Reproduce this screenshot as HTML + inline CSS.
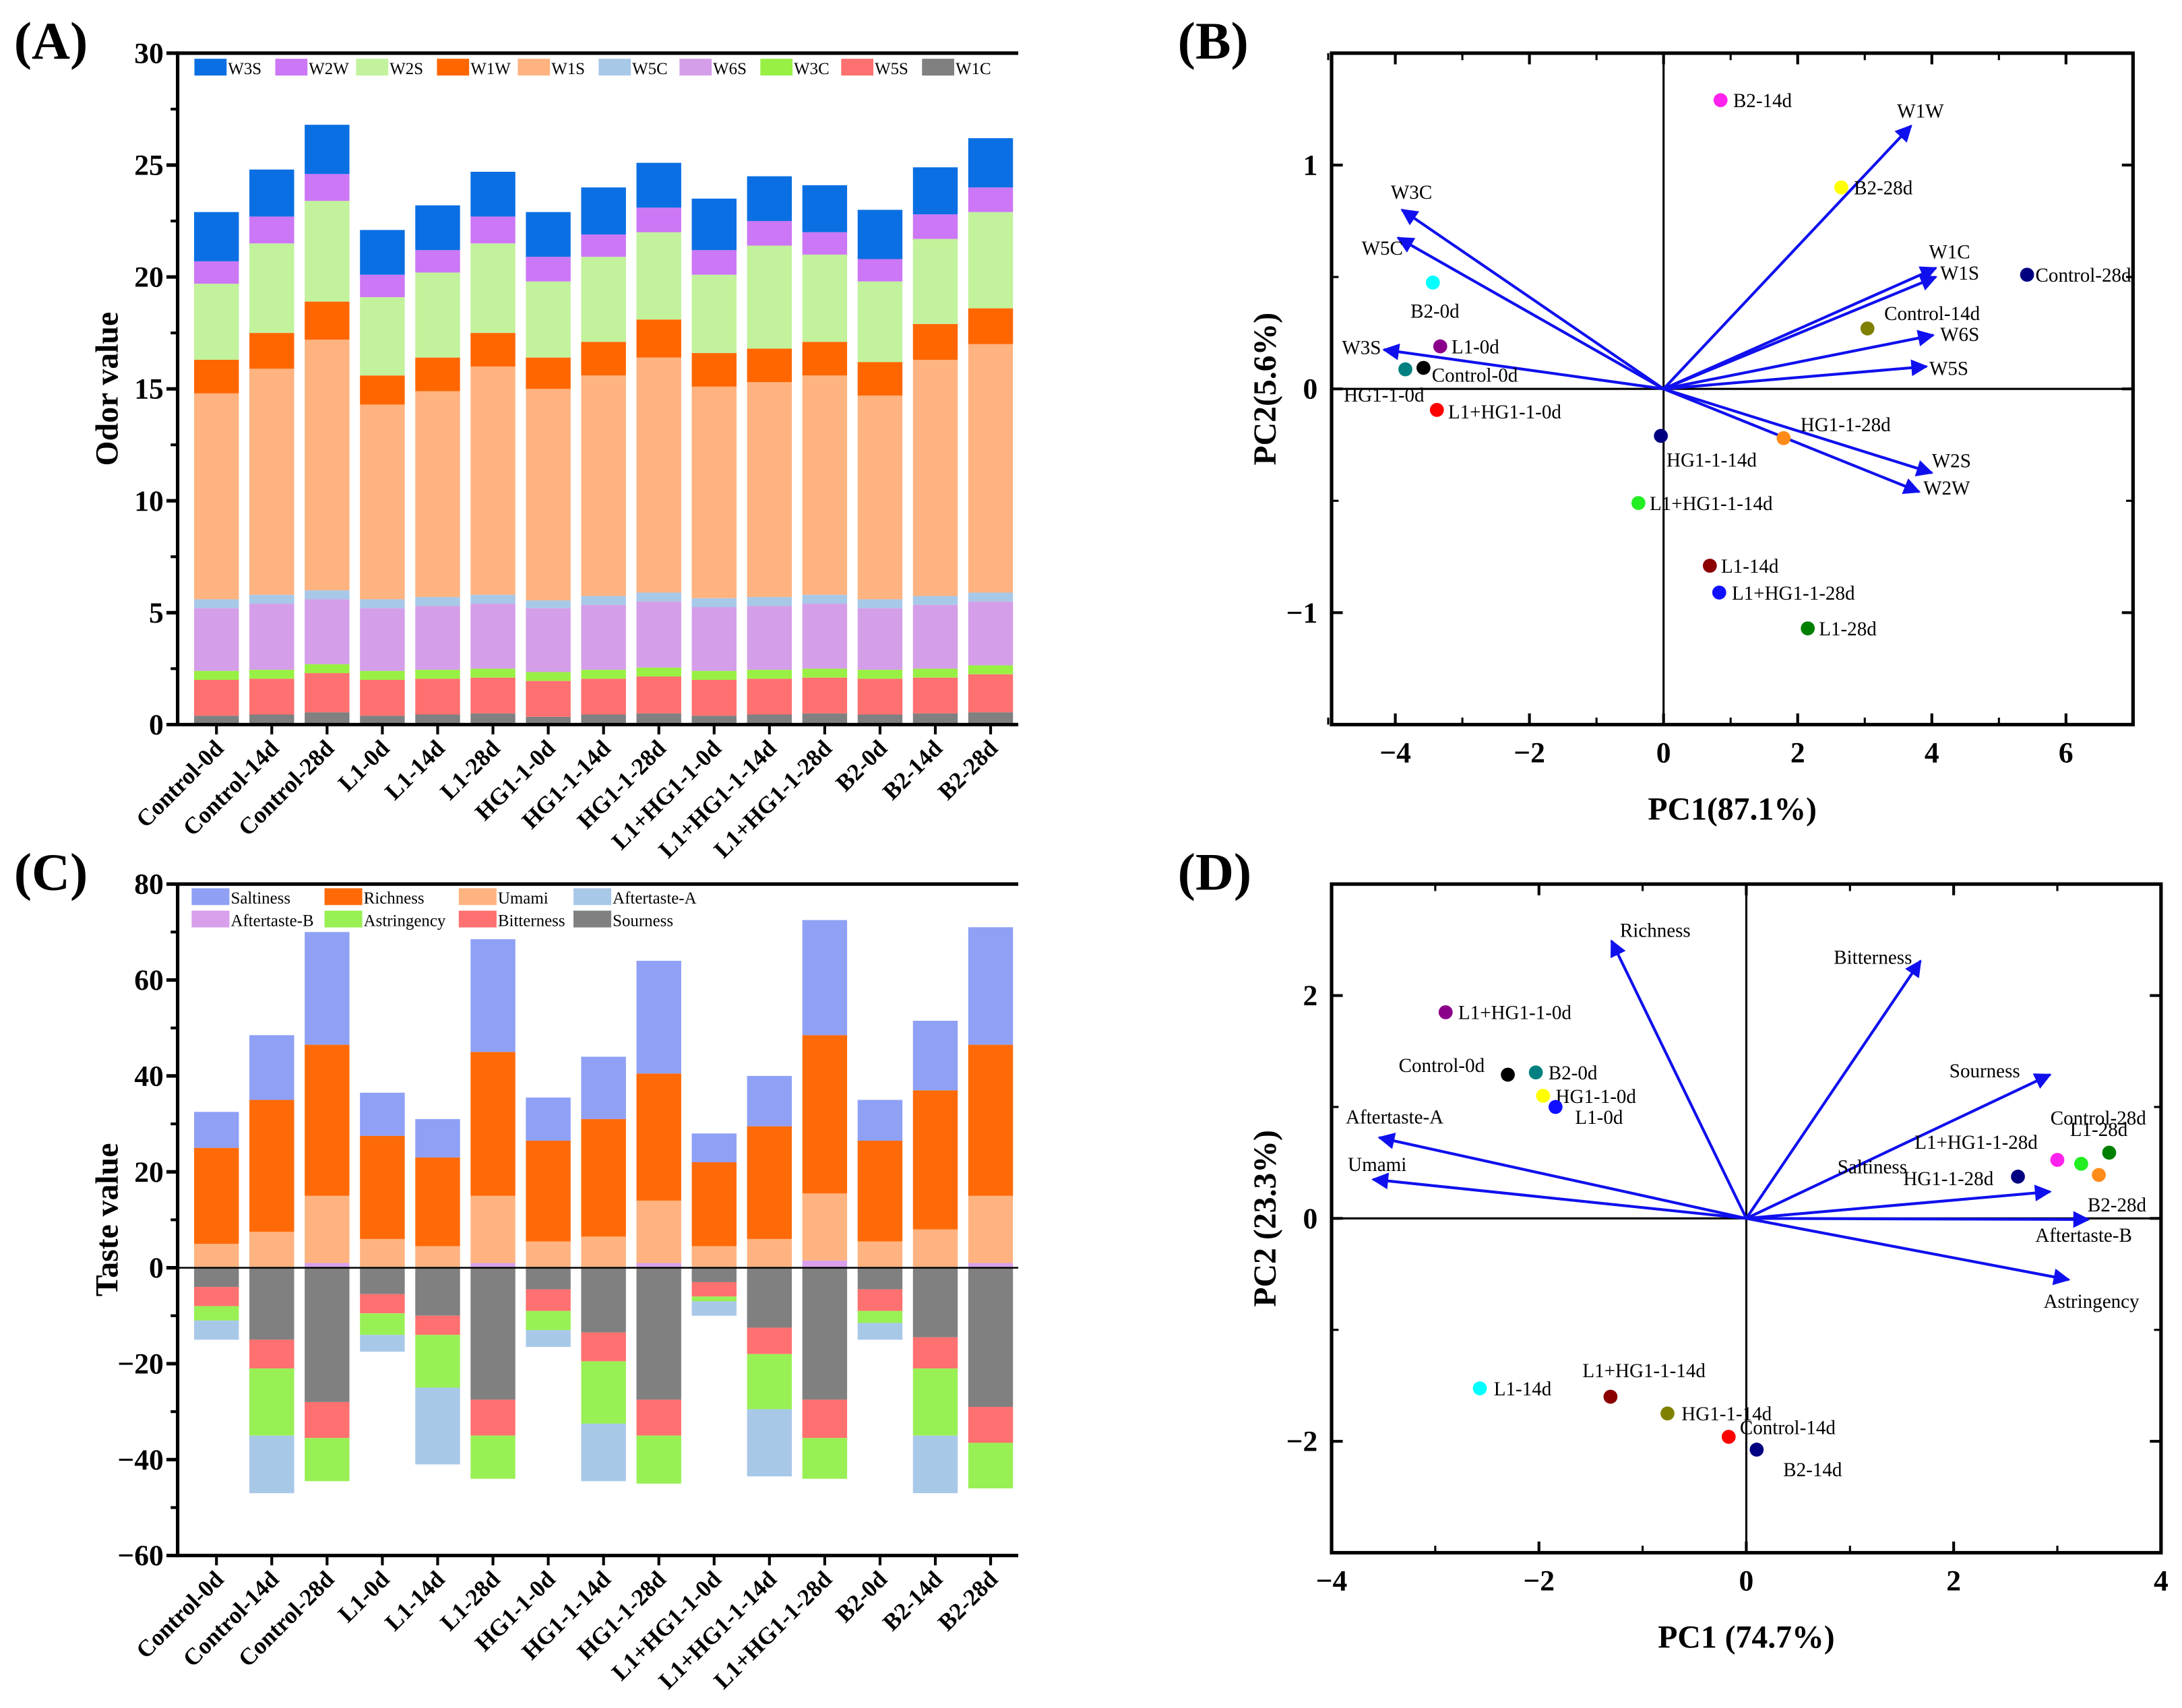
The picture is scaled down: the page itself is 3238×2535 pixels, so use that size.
<!DOCTYPE html>
<html><head><meta charset="utf-8"><style>
html,body{margin:0;padding:0;background:#fff;}
svg{display:block;font-family:"Liberation Serif",serif;}
</style></head><body>
<svg id="fig" width="3238" height="2535" viewBox="0 0 1560 1221" preserveAspectRatio="none" xmlns="http://www.w3.org/2000/svg">
<defs><marker id="ah" viewBox="0 0 10 10" refX="9" refY="5" markerWidth="7" markerHeight="7" orient="auto-start-reverse" markerUnits="userSpaceOnUse"><path d="M0,0 L10,5 L0,10 z" fill="#1010ee"/></marker>
<marker id="ah2" viewBox="0 0 10 10" refX="9" refY="5" markerWidth="16" markerHeight="12" orient="auto" markerUnits="userSpaceOnUse"><path d="M0,0 L10,5 L0,10 z" fill="#1010ee"/></marker></defs>
</svg>
<script>
// ===== Panel A data =====
const catsA = ["Control-0d","Control-14d","Control-28d","L1-0d","L1-14d","L1-28d","HG1-1-0d","HG1-1-14d","HG1-1-28d","L1+HG1-1-0d","L1+HG1-1-14d","L1+HG1-1-28d","B2-0d","B2-14d","B2-28d"];
const seriesA = ["W1C","W5S","W3C","W6S","W5C","W1S","W1W","W2S","W2W","W3S"];
const W1C = [0.4,0.45,0.55,0.4,0.45,0.5,0.35,0.45,0.5,0.4,0.45,0.5,0.45,0.5,0.55];
const W5S = [1.6,1.6,1.75,1.6,1.6,1.6,1.6,1.6,1.65,1.6,1.6,1.6,1.6,1.6,1.7];
const W3C = [0.4,0.4,0.4,0.4,0.4,0.4,0.4,0.4,0.4,0.4,0.4,0.4,0.4,0.4,0.4];
const W6S = [2.8,2.95,2.9,2.8,2.85,2.9,2.85,2.9,2.95,2.85,2.85,2.9,2.75,2.85,2.85];
const W5C = [0.4,0.4,0.4,0.4,0.4,0.4,0.35,0.4,0.4,0.4,0.4,0.4,0.4,0.4,0.4];
const W1S = [9.2,10.1,11.2,8.7,9.2,10.2,9.45,9.85,10.5,9.45,9.6,9.8,9.1,10.55,11.1];
const W1W = [1.5,1.6,1.7,1.3,1.5,1.5,1.4,1.5,1.7,1.5,1.5,1.5,1.5,1.6,1.6];
const W2S = [3.4,4.0,4.5,3.5,3.8,4.0,3.4,3.8,3.9,3.5,4.6,3.9,3.6,3.8,4.3];
const W2W = [1.0,1.2,1.2,1.0,1.0,1.2,1.1,1.0,1.1,1.1,1.1,1.0,1.0,1.1,1.1];
const W3S = [2.2,2.1,2.2,2.0,2.0,2.0,2.0,2.1,2.0,2.3,2.0,2.1,2.2,2.1,2.2];
const ticksA = [0,5,10,15,20,25,30];
// ===== Panel C data =====
const posSeriesC = ["Aftertaste-B","Umami","Richness","Saltiness"];
const negSeriesC = ["Sourness","Bitterness","Astringency","Aftertaste-A"];
const AftertasteB = [0,0,1,0,0,1,0,0,1,0,0,1.5,0,0,1];
const Umami = [5,7.5,14,6,4.5,14,5.5,6.5,13,4.5,6,14,5.5,8,14];
const Richness = [20,27.5,31.5,21.5,18.5,30,21,24.5,26.5,17.5,23.5,33,21,29,31.5];
const Saltiness = [7.5,13.5,23.5,9,8,23.5,9,13,23.5,6,10.5,24,8.5,14.5,24.5];
const Sourness = [4,15,28,5.5,10,27.5,4.5,13.5,27.5,3,12.5,27.5,4.5,14.5,29];
const Bitterness = [4,6,7.5,4,4,7.5,4.5,6,7.5,3,5.5,8,4.5,6.5,7.5];
const Astringency = [3,14,9,4.5,11,9,4,13,10,1,11.5,8.5,2.5,14,9.5];
const AftertasteA = [4,12,0,3.5,16,0,3.5,12,0,3,14,0,3.5,12,0];
const ticksC = [-60,-40,-20,0,20,40,60,80];
// ===== Panel B data =====
const ptsB = ["B2-14d","B2-28d","Control-28d","Control-14d","B2-0d","L1-0d","Control-0d","HG1-1-0d","L1+HG1-1-0d","HG1-1-14d","HG1-1-28d","L1+HG1-1-14d","L1-14d","L1+HG1-1-28d","L1-28d"];
const ptsBx = [0.85,2.65,5.42,3.04,-3.44,-3.33,-3.58,-3.85,-3.38,-0.04,1.79,-0.375,0.69,0.83,2.15];
const ptsBy = [1.29,0.9,0.51,0.27,0.475,0.19,0.094,0.0875,-0.094,-0.21,-0.22,-0.51,-0.79,-0.91,-1.07];
const vecB = ["W1W","W3C","W5C","W1C","W1S","W6S","W5S","W3S","W2S","W2W"];
const vecBx = [3.69,-3.9,-3.96,4.06,4.06,4.02,3.92,-4.17,4.0,3.81];
const vecBy = [1.175,0.8,0.675,0.54,0.5,0.24,0.1,0.175,-0.375,-0.46];
const ticksBx = [-4,-2,0,2,4,6];
const ticksBy = [-1,0,1];
// ===== Panel D data =====
const ptsD = ["L1+HG1-1-0d","Control-0d","B2-0d","HG1-1-0d","L1-0d","L1+HG1-1-28d","L1-28d","Control-28d","HG1-1-28d","B2-28d","L1-14d","L1+HG1-1-14d","HG1-1-14d","Control-14d","B2-14d"];
const ptsDx = [-2.9,-2.3,-2.03,-1.96,-1.84,3.0,3.23,3.5,2.62,3.4,-2.57,-1.31,-0.76,-0.17,0.1];
const ptsDy = [1.85,1.29,1.31,1.1,1.0,0.525,0.49,0.59,0.375,0.39,-1.525,-1.6,-1.75,-1.96,-2.075];
const vecD = ["Richness","Bitterness","Sourness","Aftertaste-A","Umami","Saltiness","Aftertaste-B","Astringency"];
const vecDx = [-1.3,1.68,2.93,-3.54,-3.6,2.93,3.3,3.11];
const vecDy = [2.49,2.31,1.29,0.725,0.35,0.24,-0.01,-0.55];
const ticksD = [-4,-2,0,2,4];
const ticksDy = [-2,0,2];

const NS="http://www.w3.org/2000/svg";
const svg=document.getElementById('fig');
function mk(tag,attrs,parent,text){const e=document.createElementNS(NS,tag);for(const k in attrs)e.setAttribute(k,attrs[k]);if(text!==undefined)e.textContent=text;(parent||svg).appendChild(e);return e;}
function grp(name){const g=mk('g',{});return g;}
function txt(g,x,y,s,size,opts){const t=mk('text',Object.assign({x:x,y:y,'font-size':size,fill:'#000'},opts||{}),g,s);return t;}

const colorsA={W1C:"#808080",W5S:"#ff7070",W3C:"#99f044",W6S:"#d49ee8",W5C:"#a8c8e8",W1S:"#ffb380",W1W:"#ff6600",W2S:"#c2f29c",W2W:"#cc77f5",W3S:"#0a6fe3"};
const dataA={W1C,W5S,W3C,W6S,W5C,W1S,W1W,W2S,W2W,W3S};

// panel labels
[["(A)",10,42],["(B)",842,42],["(C)",10,636],["(D)",842,636]].forEach(p=>{const t=txt(svg,p[1],p[2],p[0],38,{'font-weight':'bold'});});

function catAxis(g,L,R,yb){const n=catsA.length;const step=(R-L)/n;return i=>L+step*(i+0.5);}

// ===== Panel A =====
(function(){
 const g=grp('panel-a-odor-chart');
 const L=127,R=728,T=38,B=518;const ymin=0,ymax=30;
 const y=v=>B-(v-ymin)/(ymax-ymin)*(B-T);
 const step=(R-L-8)/catsA.length;const x=i=>L+12+step*(i+0.5)-4;
 const bw=32;
 catsA.forEach((c,i)=>{let acc=0;seriesA.forEach(s=>{const v=dataA[s][i];const r=mk('rect',{x:x(i)-bw/2,y:y(acc+v),width:bw,height:y(acc)-y(acc+v),fill:colorsA[s]},g);acc+=v;});});
 mk('line',{x1:L,y1:T,x2:L,y2:B+1,stroke:'#000','stroke-width':2.5},g);
 mk('line',{x1:L-1,y1:B,x2:R,y2:B,stroke:'#000','stroke-width':2.5},g);
 mk('line',{x1:L-1,y1:T,x2:R,y2:T,stroke:'#000','stroke-width':2.5},g);
 ticksA.forEach(t=>{mk('line',{x1:L-8,y1:y(t),x2:L,y2:y(t),stroke:'#000','stroke-width':2.5},g);const tl=txt(g,L-10,y(t)+7,String(t),21,{'text-anchor':'end','font-weight':'bold'});});
 for(let t=2.5;t<30;t+=5)mk('line',{x1:L-5,y1:y(t),x2:L,y2:y(t),stroke:'#000','stroke-width':2},g);
 catsA.forEach((c,i)=>{mk('line',{x1:x(i),y1:B,x2:x(i),y2:B+7,stroke:'#000','stroke-width':2},g);const tl=txt(g,0,0,c,17,{'text-anchor':'end','font-weight':'bold',transform:`translate(${x(i)+6},${B+18}) rotate(-45)`});});
 const yt=txt(g,0,0,'Odor value',23,{'text-anchor':'middle','font-weight':'bold',transform:`translate(84,${(T+B)/2}) rotate(-90)`});
 const leg=["W3S","W2W","W2S","W1W","W1S","W5C","W6S","W3C","W5S","W1C"];
 leg.forEach((s,k)=>{const lx=139+k*57.8;const e=mk('g',{},g);mk('rect',{x:lx,y:42,width:23,height:12,fill:colorsA[s]},e);txt(e,lx+24,53,s,12);});
})();

// ===== Panel C =====
(function(){
 const g=grp('panel-c-taste-chart');
 const L=127,R=728,T=632,B=1112;const ymin=-60,ymax=80;
 const y=v=>B-(v-ymin)/(ymax-ymin)*(B-T);
 const step=(R-L-8)/catsA.length;const x=i=>L+12+step*(i+0.5)-4;const bw=32;
 const cols={"Aftertaste-B":"#d8a0ea","Umami":"#ffb380","Richness":"#ff6a08","Saltiness":"#8fa0f5","Sourness":"#808080","Bitterness":"#ff7070","Astringency":"#99f055","Aftertaste-A":"#a8c8e8"};
 const dp={"Aftertaste-B":AftertasteB,"Umami":Umami,"Richness":Richness,"Saltiness":Saltiness};
 const dn={"Sourness":Sourness,"Bitterness":Bitterness,"Astringency":Astringency,"Aftertaste-A":AftertasteA};
 catsA.forEach((c,i)=>{let acc=0;posSeriesC.forEach(s=>{const v=dp[s][i];const r=mk('rect',{x:x(i)-bw/2,y:y(acc+v),width:bw,height:y(acc)-y(acc+v),fill:cols[s]},g);acc+=v;});
  acc=0;negSeriesC.forEach(s=>{const v=dn[s][i];const r=mk('rect',{x:x(i)-bw/2,y:y(acc),width:bw,height:y(acc-v)-y(acc),fill:cols[s]},g);acc-=v;});});
 mk('line',{x1:L,y1:T,x2:L,y2:B+1,stroke:'#000','stroke-width':2.5},g);
 mk('line',{x1:L-1,y1:B,x2:R,y2:B,stroke:'#000','stroke-width':2.5},g);
 mk('line',{x1:L-1,y1:T,x2:R,y2:T,stroke:'#000','stroke-width':2.5},g);
 mk('line',{x1:L,y1:y(0),x2:R,y2:y(0),stroke:'#000','stroke-width':1.2},g);
 ticksC.forEach(t=>{mk('line',{x1:L-8,y1:y(t),x2:L,y2:y(t),stroke:'#000','stroke-width':2.5},g);const tl=txt(g,L-10,y(t)+7,t<0?'\u2212'+(-t):String(t),21,{'text-anchor':'end','font-weight':'bold'});});
 for(let t=-50;t<80;t+=20)mk('line',{x1:L-5,y1:y(t),x2:L,y2:y(t),stroke:'#000','stroke-width':2},g);
 catsA.forEach((c,i)=>{mk('line',{x1:x(i),y1:B,x2:x(i),y2:B+7,stroke:'#000','stroke-width':2},g);const tl=txt(g,0,0,c,17,{'text-anchor':'end','font-weight':'bold',transform:`translate(${x(i)+6},${B+18}) rotate(-45)`});});
 const yt=txt(g,0,0,'Taste value',23,{'text-anchor':'middle','font-weight':'bold',transform:`translate(84,${(T+B)/2}) rotate(-90)`});
 const leg=[["Saltiness",137,635],["Richness",232,635],["Umami",328,635],["Aftertaste-A",410,635],["Aftertaste-B",137,651],["Astringency",232,651],["Bitterness",328,651],["Sourness",410,651]];
 leg.forEach(l=>{const e=mk('g',{},g);mk('rect',{x:l[1],y:l[2],width:27,height:12,fill:cols[l[0]]},e);txt(e,l[1]+28,l[2]+11,l[0],12);});
})();

// ===== Scatter/biplot panel =====
function biplot(name,L,R,T,B,xr,yr,xt,yt,xtitle,ytitle,pts,px,py,pcols,plab,vec,vx,vy,vlab,minorX,minorY){
 const g=grp(name);
 const X=v=>L+(v-xr[0])/(xr[1]-xr[0])*(R-L);const Y=v=>B-(v-yr[0])/(yr[1]-yr[0])*(B-T);
 mk('rect',{x:L,y:T,width:R-L,height:B-T,fill:'none',stroke:'#000','stroke-width':2.5},g);
 mk('line',{x1:X(0),y1:T,x2:X(0),y2:B,stroke:'#000','stroke-width':1.5},g);
 mk('line',{x1:L,y1:Y(0),x2:R,y2:Y(0),stroke:'#000','stroke-width':1.5},g);
 xt.forEach(t=>{mk('line',{x1:X(t),y1:B,x2:X(t),y2:B-8,stroke:'#000','stroke-width':2},g);mk('line',{x1:X(t),y1:T,x2:X(t),y2:T+8,stroke:'#000','stroke-width':2},g);const tl=txt(g,X(t),B+27,t<0?'\u2212'+(-t):String(t),21,{'text-anchor':'middle','font-weight':'bold'});});
 minorX.forEach(t=>{mk('line',{x1:X(t),y1:B,x2:X(t),y2:B-5,stroke:'#000','stroke-width':1.5},g);mk('line',{x1:X(t),y1:T,x2:X(t),y2:T+5,stroke:'#000','stroke-width':1.5},g);});
 yt.forEach(t=>{mk('line',{x1:L,y1:Y(t),x2:L+8,y2:Y(t),stroke:'#000','stroke-width':2},g);mk('line',{x1:R,y1:Y(t),x2:R-8,y2:Y(t),stroke:'#000','stroke-width':2},g);const tl=txt(g,L-10,Y(t)+7,t<0?'\u2212'+(-t):String(t),21,{'text-anchor':'end','font-weight':'bold'});});
 minorY.forEach(t=>{mk('line',{x1:L,y1:Y(t),x2:L+5,y2:Y(t),stroke:'#000','stroke-width':1.5},g);mk('line',{x1:R,y1:Y(t),x2:R-5,y2:Y(t),stroke:'#000','stroke-width':1.5},g);});
 const xa=txt(g,(L+R)/2,B+68,xtitle,23,{'text-anchor':'middle','font-weight':'bold'});
 const ya=txt(g,0,0,ytitle,23,{'text-anchor':'middle','font-weight':'bold',transform:`translate(${L-40},${(T+B)/2}) rotate(-90)`});
 vec.forEach((v,i)=>{const l=mk('line',{x1:X(0),y1:Y(0),x2:X(vx[i]),y2:Y(vy[i]),stroke:'#1010ee','stroke-width':2,'marker-end':'url(#ah2)'},g);
  const o=vlab[i];const t=txt(g,X(vx[i])+o[0],Y(vy[i])+o[1],v,14,{'text-anchor':o[2]||'start'});});
 pts.forEach((p,i)=>{const c=mk('circle',{cx:X(px[i]),cy:Y(py[i]),r:5,fill:pcols[i]},g);
  const o=plab[i];const t=txt(g,X(px[i])+o[0],Y(py[i])+o[1],p,14,{'text-anchor':o[2]||'start'});});
}
biplot('panel-b-odor-pca',952,1525,38,518,[-4.95,7],[-1.5,1.5],ticksBx,ticksBy,'PC1(87.1%)','PC2(5.6%)',ptsB,ptsBx,ptsBy,
 ["#ff22ee","#ffff00","#000080","#808000","#00ffff","#8b008b","#000000","#008080","#ff0000","#000080","#ff8c1a","#22ee22","#8b0000","#1010ff","#008000"],
 [[9,5],[9,5],[6,5],[12,-6],[-16,25],[8,5],[6,10],[-44,23],[8,6],[4,22],[12,-5],[8,5],[8,5],[9,5],[8,5]],
 vecB,vecBx,vecBy,[[-10,-6],[-8,-8],[-26,12],[-5,-7],[3,2],[5,4],[2,6],[-30,3],[0,-4],[3,2]],
 [-5,-3,-1,1,3,5,7],[-1.5,-0.5,0.5,1.5]);
biplot('panel-d-taste-pca',952,1545,632,1110,[-4,4],[-3,3],ticksD,ticksDy,'PC1 (74.7%)','PC2 (23.3%)',ptsD,ptsDx,ptsDy,
 ["#8b008b","#000000","#008080","#ffff00","#1010ff","#ff22ee","#22ee22","#008000","#000080","#ff8c1a","#00ffff","#8b0000","#808000","#ff0000","#000080"],
 [[9,5],[-78,-2],[9,5],[9,5],[14,12],[-102,-8],[-8,-20],[-42,-20],[-82,6],[-8,26],[10,5],[-20,-14],[10,5],[8,-2],[19,19]],
 vecD,vecDx,vecDy,[[6,-3],[-62,2],[-72,2],[-24,-10],[-18,-6],[-152,-13],[-38,16],[-18,20]],
 [-3,-1,1,3],[-1,1]);
</script>
</body></html>
